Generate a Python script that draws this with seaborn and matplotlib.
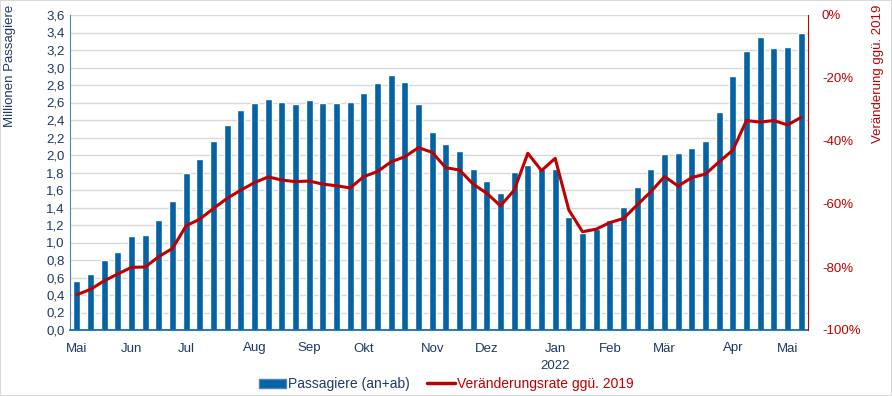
import numpy as np
import pandas as pd
import seaborn as sns
import matplotlib.pyplot as plt
from matplotlib.patches import Patch
from matplotlib.lines import Line2D

# Wöchentliche Passagiere (Mio.) Mai 2021 - Mai 2022
passagiere = [0.56, 0.64, 0.80, 0.89, 1.07, 1.09, 1.26, 1.47, 1.79, 1.95,
              2.16, 2.34, 2.52, 2.60, 2.64, 2.61, 2.58, 2.63, 2.59, 2.60,
              2.61, 2.71, 2.82, 2.91, 2.83, 2.58, 2.26, 2.13, 2.05, 1.84,
              1.70, 1.57, 1.81, 1.89, 1.84, 1.84, 1.29, 1.11, 1.15, 1.26,
              1.41, 1.63, 1.84, 2.01, 2.02, 2.08, 2.16, 2.49, 2.90, 3.19,
              3.35, 3.22, 3.24, 3.40]

# Veränderung ggü. 2019 in %
veraenderung = [-88.8, -87.1, -84.4, -82.2, -80.1, -80.0, -76.7, -74.1, -66.9, -64.8,
                -61.4, -58.2, -55.6, -53.2, -51.4, -52.4, -52.9, -52.7, -53.7, -54.2,
                -54.9, -51.3, -49.7, -46.6, -45.0, -42.1, -43.6, -48.5, -49.2, -53.7,
                -56.6, -60.6, -55.6, -43.9, -49.4, -45.5, -61.9, -68.8, -68.0, -65.9,
                -64.6, -60.3, -56.1, -51.3, -54.3, -51.6, -50.5, -46.6, -42.9, -33.5,
                -34.0, -33.5, -34.9, -32.5]

monat_pos = [0, 4, 8, 13, 17, 21, 26, 30, 35, 39, 43, 48, 52]
monat_labels = ['Mai', 'Jun', 'Jul', 'Aug', 'Sep', 'Okt', 'Nov', 'Dez',
                'Jan\n2022', 'Feb', 'Mär', 'Apr', 'Mai']

df = pd.DataFrame({'woche': np.arange(len(passagiere)),
                   'passagiere': passagiere,
                   'veraenderung': veraenderung})

sns.set_style('white')
plt.rcParams['font.family'] = ['Liberation Sans', 'DejaVu Sans']

blau = '#0563A5'
rot = '#C00000'
navy = '#1F3864'

fig = plt.figure(figsize=(8.92, 3.96), dpi=100)
ax = fig.add_axes([70/892, 66/396, 738/892, 315/396])

sns.barplot(data=df, x='woche', y='passagiere', color=blau, width=0.5,
            saturation=1, ax=ax, zorder=2)
ax.set_xlim(-0.5, len(passagiere) - 0.5)
ax.set_ylim(0, 3.6)
yt = np.arange(0, 3.61, 0.2)
ax.set_yticks(yt)
ax.set_yticklabels([f'{v:.1f}'.replace('.', ',') for v in yt], color=navy, fontsize=9.5)
ax.yaxis.grid(True, color='#D9D9D9', linewidth=1, zorder=0)
ax.set_axisbelow(True)
ax.set_xticks(monat_pos)
ax.set_xticklabels(monat_labels, color=navy, fontsize=9.5, linespacing=1.6)
ax.tick_params(axis='y', length=0, pad=4)
ax.tick_params(axis='x', length=0, pad=9)
ax.set_xlabel('')
ax.set_ylabel('')
for s in ['top', 'right']:
    ax.spines[s].set_visible(False)
ax.spines['left'].set_color('#4F81BD')
ax.spines['bottom'].set_color(blau)
ax.spines['bottom'].set_linewidth(1.2)

ax2 = ax.twinx()
sns.lineplot(data=df, x='woche', y='veraenderung', color=rot, linewidth=2.2,
             ax=ax2, zorder=3, solid_joinstyle='round', solid_capstyle='round')
ax2.set_ylim(-100, 0)
ax2.set_yticks(np.arange(-100, 1, 20))
ax2.set_yticklabels([f'{v}%' for v in np.arange(-100, 1, 20)], color=rot, fontsize=9.5)
ax2.tick_params(axis='y', length=0, pad=10)
ax2.set_ylabel('')
ax2.set_xlabel('')
for s in ['top', 'left', 'bottom']:
    ax2.spines[s].set_visible(False)
ax2.spines['right'].set_color(rot)
ax2.set_xlim(-0.5, len(passagiere) - 0.5)

# Achsentitel oben bündig wie im Original
fig.text(10/892, 1 - 5/396, 'Millionen Passagiere', rotation=90, ha='center',
         va='top', color=navy, fontsize=9.5)
fig.text(878/892, 1 - 5/396, 'Veränderung ggü. 2019', rotation=90, ha='center',
         va='top', color=rot, fontsize=9.5)

handles = [Patch(facecolor=blau, edgecolor='#4F81BD'),
           Line2D([0], [0], color=rot, linewidth=2.5)]
leg = fig.legend(handles, ['Passagiere (an+ab)', 'Veränderungsrate ggü. 2019'],
                 loc='center', bbox_to_anchor=(0.5, 12/396), ncol=2, frameon=False,
                 fontsize=10, handlelength=2.0, handleheight=0.6, columnspacing=1.2,
                 handletextpad=0.15)
leg.get_texts()[0].set_color(navy)
leg.get_texts()[1].set_color(rot)

fig.patches.append(plt.Rectangle((0, 0), 1, 1, transform=fig.transFigure,
                                 fill=False, edgecolor='#D9D9D9', linewidth=1.5))

fig.savefig('out.png', dpi=100)
